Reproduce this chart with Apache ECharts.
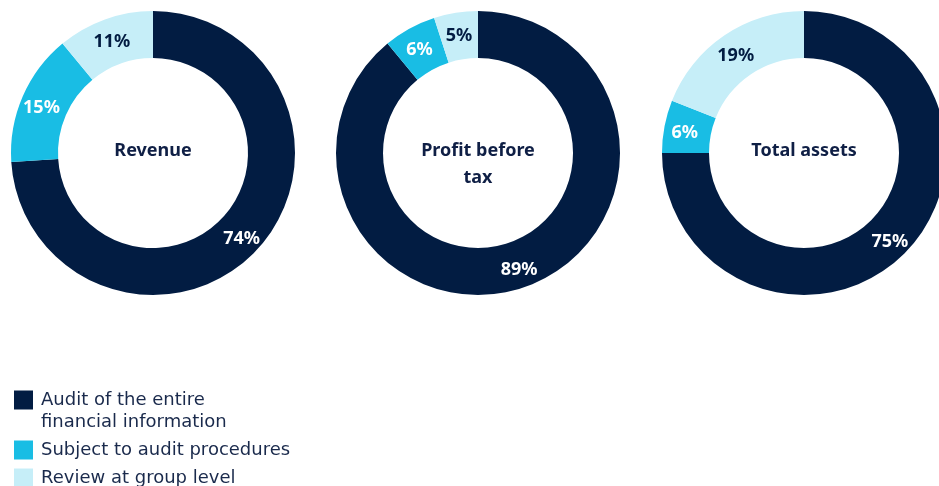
<!DOCTYPE html>
<html>
<head>
<meta charset="utf-8">
<script src="https://cdn.jsdelivr.net/npm/echarts@6/dist/echarts.min.js"></script>
<style>
html,body{margin:0;padding:0;background:#fff;}
#chart{width:939px;height:486px;}
</style>
</head>
<body>
<div id="chart"></div>
<script>
const categories = ['Audit of the entire\nfinancial information', 'Subject to audit procedures', 'Review at group level'];
const metrics = ['Revenue', 'Profit before\ntax', 'Total assets'];
const revenue = [74, 15, 11];
const profitBeforeTax = [89, 6, 5];
const totalAssets = [75, 6, 19];

const colors = ['#021c42', '#19bde4', '#c6eef8'];
const labelColors = ['#ffffff', '#ffffff', '#021c42'];
const centers = [[153, 153], [478, 153], [804, 153]];
const FONT = '"Noto Sans", sans-serif';

function makeSeries(values, idx) {
  return {
    type: 'pie',
    name: metrics[idx],
    center: centers[idx],
    radius: [95, 142],
    startAngle: 90,
    clockwise: true,
    avoidLabelOverlap: false,
    silent: true,
    emphasis: { disabled: true },
    itemStyle: { borderWidth: 0 },
    label: {
      show: true,
      position: 'inside',
      formatter: '{c}%',
      fontFamily: FONT,
      fontWeight: 'bold',
      fontSize: 18
    },
    labelLayout: { dy: 3 },
    labelLine: { show: false },
    data: values.map((v, i) => ({
      name: categories[i],
      value: v,
      itemStyle: { color: colors[i] },
      label: { color: labelColors[i] }
    }))
  };
}

const chart = echarts.init(document.getElementById('chart'), null, { renderer: 'canvas' });
chart.setOption({
  animation: false,
  color: colors,
  legend: {
    orient: 'vertical',
    left: 14,
    top: 367,
    padding: 0,
    itemWidth: 19,
    itemHeight: 19,
    itemGap: 6,
    icon: 'rect',
    selectedMode: false,
    formatter: function (name) {
      const lines = name.split('\n').map(l => '{t|' + l + '}');
      // first line of a multi-line name sits beside the square
      return (lines.length > 1 ? '{t|\u00a0}\n' : '') + lines.join('\n');
    },
    textStyle: {
      fontFamily: '"DejaVu Sans", sans-serif',
      fontSize: 18,
      color: '#1a2a4c',
      lineHeight: 22,
      rich: {
        t: {
          fontFamily: '"DejaVu Sans", sans-serif',
          fontSize: 18,
          color: '#1a2a4c',
          lineHeight: 22,
          padding: [0, 0, 0, 3]
        }
      }
    },
    data: categories
  },
  graphic: metrics.map((m, i) => {
    const n = m.split('\n').length;
    return {
      type: 'text',
      x: centers[i][0],
      y: centers[i][1] - 2,
      style: {
        text: m,
        fontFamily: FONT,
        fontWeight: 'bold',
        fontSize: 18,
        lineHeight: 27,
        fill: '#0f1f45',
        align: 'center',
        verticalAlign: n > 1 ? 'top' : 'middle',
        y: n > 1 ? -13.5 : 0
      }
    };
  }),
  series: [
    makeSeries(revenue, 0),
    makeSeries(profitBeforeTax, 1),
    makeSeries(totalAssets, 2)
  ]
});
</script>
</body>
</html>
